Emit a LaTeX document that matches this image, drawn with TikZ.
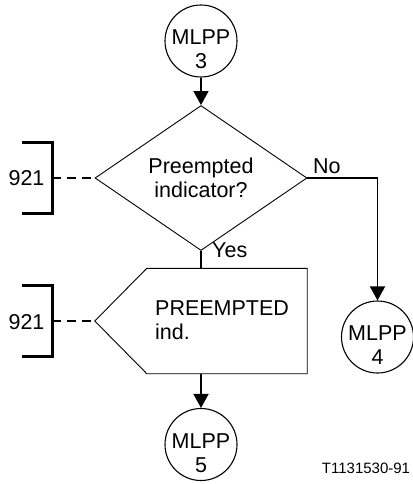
\documentclass[tikz,border=0pt]{standalone}
\usepackage{fontspec}
\setmainfont{Liberation Sans}
\usetikzlibrary{arrows.meta,shapes.geometric}
\begin{document}
\begin{tikzpicture}[x=1pt,y=-1pt,
  every node/.style={font=\fontsize{21.5}{24}\selectfont},
  conn/.style={draw, circle, line width=1.1pt, minimum size=72pt, inner sep=0pt},
  conntext/.style={align=center, inner sep=0pt},
  decision/.style={draw, diamond, line width=0.9pt, minimum width=212pt,
    minimum height=122pt, inner sep=0pt, align=center},
  outline/.style={line width=0.9pt, line join=miter},
  flow/.style={line width=1.6pt},
  flowarrow/.style={flow, -{Triangle[length=14pt,width=15pt]}},
  refline/.style={line width=2pt, dash pattern=on 9pt off 6pt},
  bracket/.style={line width=3pt, line join=miter},
]
\useasboundingbox (0,0) rectangle (412,484);

% connectors (circles)
\node[conn] (c3) at (201,41) {};
\node[conntext] (t3) at ([yshift=-8.5pt]c3.center) {MLPP\\3};
\node[conn] (c4) at (377.5,337) {};
\node[conntext] (t4) at ([yshift=-8.5pt]c4.center) {MLPP\\4};
\node[conn] (c5) at (201,444.5) {};
\node[conntext] (t5) at ([yshift=-8.5pt]c5.center) {MLPP\\5};

% decision
\node[decision] (dia) at (201,178) {Preempted\\indicator?};

% output signal (pentagon pointing left)
\node[minimum width=212pt, minimum height=105pt, inner sep=0pt] (pent) at (201,321) {};
\draw[outline] (pent.north east) -- (pent.south east)
  -- ([xshift=52pt]pent.south west) -- (pent.west)
  -- ([xshift=52pt]pent.north west) -- cycle;
\node[anchor=west, align=left, inner sep=0pt] (ptext) at (155,320) {PREEMPTED\\ind.};

% flow lines
\draw[flowarrow] (c3) -- (dia);
\draw[flowarrow] (dia.east) -| (c4);
\draw[flow] (dia) -- (pent);
\draw[flowarrow] (pent) -- (c5);

\node[anchor=base west, inner sep=0pt] (no) at (313,173) {No};
\node[anchor=base west, inner sep=0pt] (yes) at (212,257) {Yes};

% references to figure 921
\coordinate (b1) at (52,178);
\draw[bracket] (22,142.5) -- (52,142.5) -- (52,213.5) -- (22,213.5);
\draw[refline] (b1) -- (dia.west);
\node (r1) at (26.5,178) {921};

\coordinate (b2) at (52,321);
\draw[bracket] (22,285.5) -- (52,285.5) -- (52,356.5) -- (22,356.5);
\draw[refline] (b2) -- (pent.west);
\node (r2) at (26.5,322) {921};

\node[font=\fontsize{15}{18}\selectfont] (tag) at (366,468) {T1131530-91};
\end{tikzpicture}
\end{document}
